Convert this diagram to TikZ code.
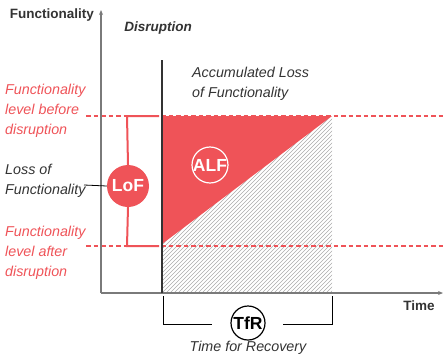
\documentclass[tikz,border=0pt]{standalone}
\usepackage{fontspec}
\setmainfont{Liberation Sans}
\usetikzlibrary{arrows.meta}
\definecolor{lossred}{HTML}{EF5358}
\definecolor{inkgray}{HTML}{333333}
\definecolor{axisgray}{HTML}{7A7A7A}
\definecolor{hatchgray}{HTML}{ABABAB}
\begin{document}
\begin{tikzpicture}[x=1pt,y=-1pt,
  axis/.style={draw=axisgray,line width=1.3pt,-{Stealth[length=5pt,width=4pt]}},
  level/.style={draw=lossred,line width=1.2pt,dash pattern=on 4.5pt off 3pt},
  lbl/.style={font=\fontsize{14.3}{20}\selectfont\itshape,inner sep=0pt,align=left,anchor=west},
  redlbl/.style={lbl,text=lossred},
  badge/.style={circle,inner sep=0pt,font=\fontsize{17.5}{17.5}\selectfont\bfseries}]
\useasboundingbox (0,0) rectangle (444,359);
% axes
\coordinate (O) at (101,293);
\coordinate (ytop) at (101,10);
\coordinate (xend) at (443,293);
% hatched area: time for recovery
\begin{scope}
\clip (162,244) -- (332,116) -- (332,293) -- (162,293) -- cycle;
\foreach \k in {-200,-196,...,180}
  \draw[hatchgray,line width=.6pt] (162+\k,293) -- ++(200,-200);
\end{scope}
% accumulated loss
\fill[lossred] (162,116) -- (332,116) -- (162,244) -- cycle;
\draw[level] (86,116) -- (443,116);
\draw[level] (86,246) -- (443,246);
\draw[axis] (O) -- (ytop);
\draw[axis] (O) -- (xend);
% disruption
\coordinate (d0) at (162,60);
\coordinate (d1) at (162,293);
\draw[inkgray,line width=1.3pt] (d0) -- (d1);
% loss of functionality bracket
\node[badge,fill=lossred,text=white,minimum size=42pt] (lof) at (128,186) {LoF};
\draw[lossred,line width=2pt] (lof.north) -- (127,116) -- (159,116);
\draw[lossred,line width=2pt] (lof.south) -- (127,246) -- (159,246);
\node[badge,draw=white,line width=1.2pt,text=white,minimum size=34pt] (alf) at (210,165) {ALF};
% time for recovery bracket
\node[badge,draw=black,line width=1.2pt,text=black,minimum size=34pt] (tfr) at (248,323) {TfR};
\draw[black,line width=1pt] (163,296) -- (163,324) -- (212,324);
\draw[black,line width=1pt] (283,324) -- (332,324) -- (332,296);
% labels
\node[font=\fontsize{13.5}{16}\selectfont\bfseries,text=inkgray,anchor=east,inner sep=0pt] (ylab) at (94,15) {Functionality};
\node[font=\fontsize{13.5}{16}\selectfont\bfseries,text=inkgray,inner sep=0pt] (xlab) at (419,306) {Time};
\node[font=\fontsize{13.5}{16}\selectfont\bfseries\itshape,text=inkgray,inner sep=0pt] (dlab) at (158,28) {Disruption};
\node[lbl,text=inkgray] (alflab) at (192,84) {Accumulated Loss\\of Functionality};
\node[redlbl] (before) at (5,111) {Functionality\\level before\\disruption};
\node[redlbl] (after) at (5,253) {Functionality\\level after\\disruption};
\node[lbl,text=inkgray] (loflab) at (5,181) {Loss of\\Functionality};
\draw[black,line width=.8pt] (84,185) -- (lof.west);
\node[lbl,anchor=center,text=inkgray] (tfrlab) at (248,348) {Time for Recovery};
\end{tikzpicture}
\end{document}
